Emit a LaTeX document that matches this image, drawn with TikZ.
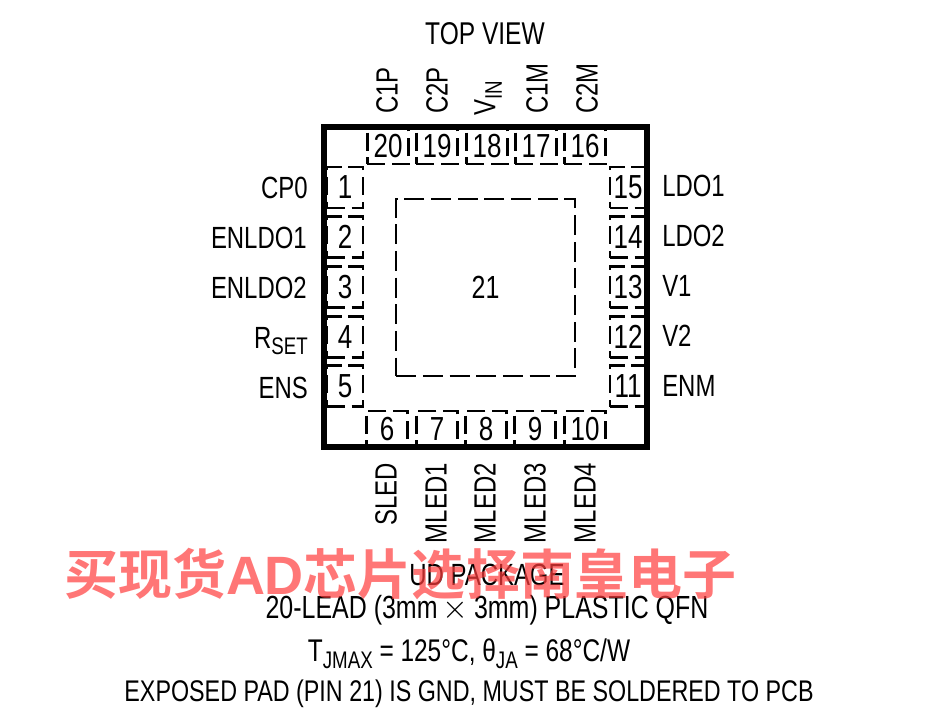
\documentclass[tikz,border=0pt]{standalone}
\usepackage{fontspec}
\setmainfont[FakeStretch=0.78]{Liberation Sans}
\newfontfamily\cjkfont{Noto Sans CJK SC}[BoldFont={Noto Sans CJK SC Bold}]
\newfontfamily\markfont{Liberation Sans}
\definecolor{markred}{RGB}{255,60,60}
\newcommand{\pedice}[1]{\raisebox{-0.4ex}{\fontsize{18}{18}\selectfont #1}}
\tikzset{
  pinlr/.style={draw, line width=1.9pt, dash pattern=on 13.5pt off 5pt, minimum width=27pt, minimum height=31pt, inner sep=0pt, font=\fontsize{25}{27}\selectfont},
  pintb/.style={draw, line width=1.9pt, dash pattern=on 13.5pt off 5pt, minimum width=31pt, minimum height=27pt, inner sep=0pt, font=\fontsize{25}{27}\selectfont},
  lab/.style={inner sep=0pt, font=\fontsize{23}{25}\selectfont},
  note/.style={inner sep=0pt, font=\fontsize{22.4}{25}\selectfont},
}
\begin{document}
\begin{tikzpicture}[x=0.75pt, y=-0.75pt]
    \useasboundingbox (0,0) rectangle (937,725);

    % Disegna i pin a sinistra
    \node[pinlr] (p1) at (345,187.5) {1};
    \node[pinlr] (p2) at (345,237) {2};
    \node[pinlr] (p3) at (345,287) {3};
    \node[pinlr] (p4) at (345,337) {4};
    \node[pinlr] (p5) at (345,386) {5};

    % Disegna i pin in basso
    \node[pintb] (p6) at (387,429) {6};
    \node[pintb] (p7) at (437,429) {7};
    \node[pintb] (p8) at (486,429) {8};
    \node[pintb] (p9) at (535,429) {9};
    \node[pintb] (p10) at (585,429) {10};

    % Disegna i pin a destra
    \node[pinlr] (p11) at (628,386) {11};
    \node[pinlr] (p12) at (628,337) {12};
    \node[pinlr] (p13) at (628,287) {13};
    \node[pinlr] (p14) at (628,237) {14};
    \node[pinlr] (p15) at (628,187.5) {15};

    % Disegna i pin in alto
    \node[pintb] (p16) at (585,146) {16};
    \node[pintb] (p17) at (536,146) {17};
    \node[pintb] (p18) at (487,146) {18};
    \node[pintb] (p19) at (437,146) {19};
    \node[pintb] (p20) at (388,146) {20};

    % Pad centrale e contorno
    \node[draw, line width=1.9pt, dash pattern=on 15pt off 5pt, minimum width=134pt, minimum height=133pt, inner sep=0pt, font=\fontsize{24}{26}\selectfont] (pad) at (485.5,287.5) {21};
    \draw[line width=5pt] (324,127) rectangle (647,447);

    % Nomi dei pin
    \node[lab, anchor=east] (n1) at (308,188) {CP0};
    \node[lab, anchor=east] (n2) at (307,238) {ENLDO1};
    \node[lab, anchor=east] (n3) at (307,288) {ENLDO2};
    \node[lab, anchor=east] (n4) at (308,341) {R\pedice{SET}};
    \node[lab, anchor=east] (n5) at (308,388) {ENS};
    \node[lab, anchor=west] (n15) at (662,186) {LDO1};
    \node[lab, anchor=west] (n14) at (662,236) {LDO2};
    \node[lab, anchor=west] (n13) at (662,286) {V1};
    \node[lab, anchor=west] (n12) at (662,336) {V2};
    \node[lab, anchor=west] (n11) at (662,386) {ENM};
    \node[lab, rotate=90, anchor=west] (n20) at (387,114) {C1P};
    \node[lab, rotate=90, anchor=west] (n19) at (437,114) {C2P};
    \node[lab, rotate=90, anchor=west] (n18) at (488,116) {V\pedice{IN}};
    \node[lab, rotate=90, anchor=west] (n17) at (537,114) {C1M};
    \node[lab, rotate=90, anchor=west] (n16) at (587,114) {C2M};
    \node[lab, rotate=90, anchor=east] (n6) at (386,463) {SLED};
    \node[lab, rotate=90, anchor=east] (n7) at (436,463) {MLED1};
    \node[lab, rotate=90, anchor=east] (n8) at (485,463) {MLED2};
    \node[lab, rotate=90, anchor=east] (n9) at (535,463) {MLED3};
    \node[lab, rotate=90, anchor=east] (n10) at (585,463) {MLED4};

    % Titoli
    \node[lab, font=\fontsize{23.6}{25}\selectfont] (top) at (485,34) {TOP VIEW};
    \node[lab] (pkg) at (487,575) {UD PACKAGE};
    \node[lab, font=\fontsize{24}{26}\selectfont] (lead) at (487,610) {20-LEAD (3mm\,$\times$\,3mm) PLASTIC QFN};
    \node[note, font=\fontsize{23.5}{25}\selectfont] (tj) at (469,654) {T\pedice{JMAX} = 125°C, θ\pedice{JA} = 68°C/W};
    \node[note] (pin) at (469,694) {EXPOSED PAD (PIN 21) IS GND, MUST BE SOLDERED TO PCB};

    % Scritta sovrapposta
    \node[inner sep=0pt, text=markred, opacity=0.7, font=\fontsize{40.5}{44}\selectfont\bfseries\cjkfont] (mark) at (400,574) {买现货{\markfont AD}芯片选择南皇电子};
\end{tikzpicture}
\end{document}
